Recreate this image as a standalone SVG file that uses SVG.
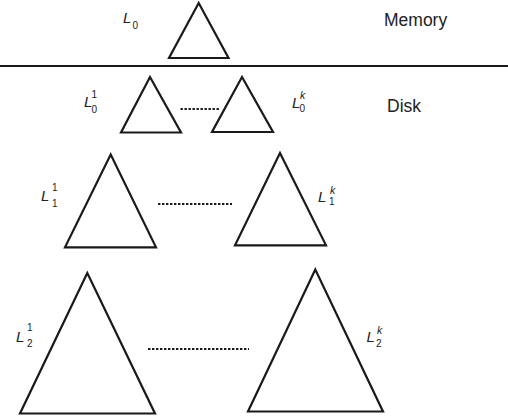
<svg xmlns="http://www.w3.org/2000/svg" width="508" height="416" viewBox="0 0 508 416">
<style>
.tri{fill:none;stroke:#1a1a1a;stroke-width:2.2;stroke-linejoin:miter}
.dot{stroke:#1a1a1a;stroke-width:2.2;stroke-dasharray:2.4 1.6;fill:none}
.sep{stroke:#1a1a1a;stroke-width:2.2}
.lab{font-family:"Liberation Sans",Arial,sans-serif;font-size:17.5px;fill:#222}
.L{font-family:"Liberation Sans",Arial,sans-serif;font-style:italic;font-size:15px;fill:#222}
.s{font-family:"Liberation Sans",Arial,sans-serif;font-size:10px;fill:#222}
.sk{font-family:"Liberation Sans",Arial,sans-serif;font-style:italic;font-size:10.5px;fill:#222}
</style>
<rect width="508" height="416" fill="#fff"/>
<line class="sep" x1="0" y1="66" x2="508" y2="66"/>
<text class="lab" x="384" y="26">Memory</text>
<text class="lab" x="387" y="112">Disk</text>
<g id="L0">
<polygon class="tri" points="198.7,3 169,58 228.5,58"/>
<text class="L" x="123" y="23">L</text><text class="s" x="132.5" y="28.5">0</text>
</g>
<g id="L0_1">
<polygon class="tri" points="150,77 121,132.5 181,132.5"/>
<text class="L" x="84" y="107">L</text><text class="s" x="91.5" y="97.5">1</text><text class="s" x="91.5" y="112.5">0</text>
</g>
<g id="L0_k">
<polygon class="tri" points="242,77 212,132 273,132"/>
<text class="L" x="292" y="107.5">L</text><text class="sk" x="300" y="98.5">k</text><text class="s" x="299.5" y="112">0</text>
</g>
<g id="L1_1">
<polygon class="tri" points="110.7,154.5 65,247.3 156,247.3"/>
<text class="L" x="41" y="201">L</text><text class="s" x="52" y="190.5">1</text><text class="s" x="52" y="207">1</text>
</g>
<g id="L1_k">
<polygon class="tri" points="280,153 235,245.3 326,245.3"/>
<text class="L" x="318" y="201.5">L</text><text class="sk" x="330" y="193.5">k</text><text class="s" x="329" y="205">1</text>
</g>
<g id="L2_1">
<polygon class="tri" points="87.3,273 20,413.5 155,413.5"/>
<text class="L" x="16" y="341.5">L</text><text class="s" x="27" y="330.5">1</text><text class="s" x="27" y="346.5">2</text>
</g>
<g id="L2_k">
<polygon class="tri" points="315.3,269.5 248,411.5 383,411.5"/>
<text class="L" x="366.5" y="342">L</text><text class="sk" x="377" y="333.5">k</text><text class="s" x="376" y="346.5">2</text>
</g>
<g id="connectors">
<line class="dot" x1="180.5" y1="109" x2="219" y2="109"/>
<line class="dot" x1="158" y1="204" x2="232" y2="204"/>
<line class="dot" x1="148" y1="349" x2="249" y2="349"/>
</g>
</svg>
